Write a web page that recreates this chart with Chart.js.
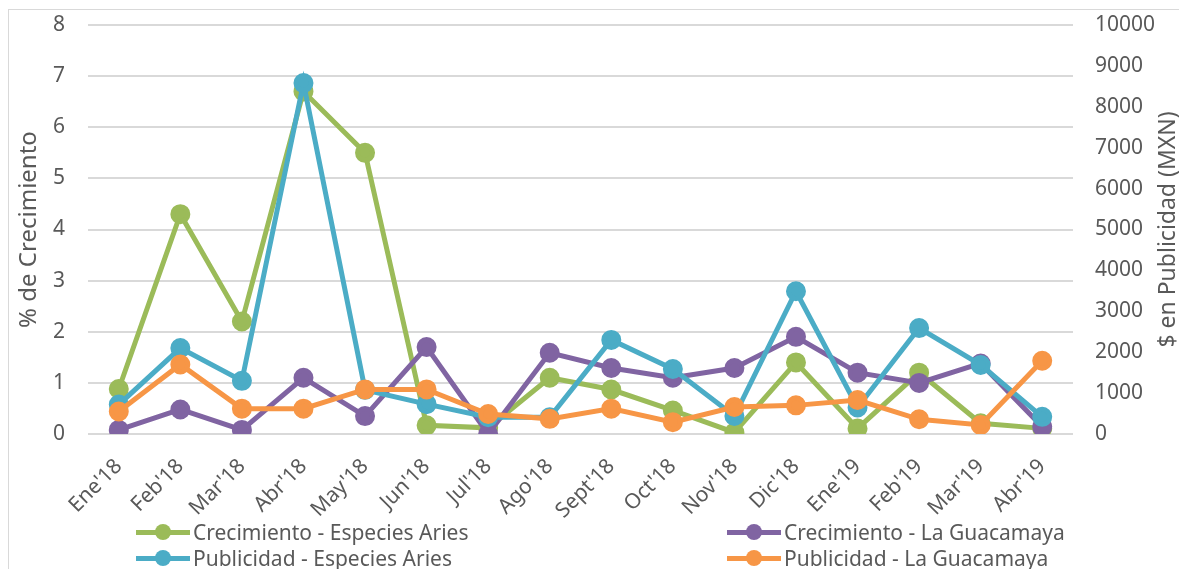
<!DOCTYPE html>
<html>
<head>
<meta charset="utf-8">
<script src="https://cdn.jsdelivr.net/npm/chart.js@4.4.1/dist/chart.umd.min.js"></script>
<style>
  html, body { margin: 0; padding: 0; background: #fff; overflow: hidden; }
  #wrap { position: relative; width: 1179px; height: 569px; font-family: "Noto Sans", sans-serif; }
  #frame { position: absolute; left: 8px; top: 9px; width: 1300px; height: 700px; border: 1px solid #d9d9d9; box-sizing: border-box; }
  #chart { position: absolute; left: 0; top: 0; }
  .leg { position: absolute; height: 26px; display: flex; align-items: center; color: #595959; font-size: 21px; white-space: nowrap; }
  .leg .mk { position: relative; width: 54px; height: 16px; margin-right: 3px; }
  .leg .mk .ln { position: absolute; left: 0; right: 0; top: 5.5px; height: 5px; }
  .leg .mk .dot { position: absolute; left: 19px; top: 0; width: 16px; height: 16px; border-radius: 50%; }
</style>
</head>
<body>
<div id="wrap">
  <div id="frame"></div>
  <canvas id="chart" width="1179" height="569"></canvas>
  <div id="legend"></div>
</div>
<script>
const months = ["Ene'18", "Feb'18", "Mar'18", "Abr'18", "May'18", "Jun'18", "Jul'18", "Ago'18",
                "Sept'18", "Oct'18", "Nov'18", "Dic'18", "Ene'19", "Feb'19", "Mar'19", "Abr'19"];

// % de crecimiento (eje izquierdo)
const crecimientoAries = [0.88, 4.3, 2.2, 6.7, 5.5, 0.17, 0.12, 1.1, 0.87, 0.46, 0.03, 1.4, 0.11, 1.2, 0.21, 0.11];
const crecimientoGuacamaya = [0.08, 0.48, 0.08, 1.1, 0.35, 1.7, 0.0, 1.59, 1.29, 1.1, 1.29, 1.9, 1.2, 1.0, 1.38, 0.14];

// $ en publicidad (eje derecho)
const publicidadAries = [720, 2100, 1300, 8580, 1080, 730, 410, 410, 2300, 1590, 440, 3490, 650, 2590, 1690, 420];
const publicidadGuacamaya = [550, 1700, 620, 620, 1090, 1090, 490, 370, 620, 290, 660, 700, 830, 360, 220, 1790];

const leftTicks = { min: 0, max: 8, step: 1 };
const rightTicks = { min: 0, max: 10000, step: 1000 };

const colors = {
  green: '#9BBB59',
  purple: '#8064A2',
  blue: '#4BACC6',
  orange: '#F79646'
};

const series = [
  { label: 'Crecimiento - Especies Aries', data: crecimientoAries, color: colors.green, axis: 'y', order: 4 },
  { label: 'Crecimiento - La Guacamaya', data: crecimientoGuacamaya, color: colors.purple, axis: 'y', order: 3 },
  { label: 'Publicidad - Especies Aries', data: publicidadAries, color: colors.blue, axis: 'y1', order: 2 },
  { label: 'Publicidad - La Guacamaya', data: publicidadGuacamaya, color: colors.orange, axis: 'y1', order: 1 }
];

const FONT = '"Noto Sans", sans-serif';
const TEXT = '#595959';
const GRID = '#d9d9d9';

// right axis title reads bottom-to-top, like Excel
const rightTitle = {
  id: 'rightTitle',
  afterDraw(chart) {
    const { ctx, chartArea, scales } = chart;
    ctx.save();
    ctx.translate(scales.y1.right - 11, (chartArea.top + chartArea.bottom) / 2);
    ctx.rotate(-Math.PI / 2);
    ctx.fillStyle = TEXT;
    ctx.font = '23px ' + FONT;
    ctx.textAlign = 'center';
    ctx.textBaseline = 'middle';
    ctx.fillText('$ en Publicidad (MXN)', 0, 0);
    ctx.restore();
  }
};

// fixed axis box sizes so the plot sits where the original does
function fitVertical(width) {
  return scale => {
    scale.width = width;
    scale.paddingTop = 8;
    scale.paddingBottom = 8;
  };
}

const ctx = document.getElementById('chart').getContext('2d');
new Chart(ctx, {
  type: 'line',
  data: {
    labels: months,
    datasets: series.map(s => ({
      label: s.label,
      data: s.data,
      yAxisID: s.axis,
      order: s.order,
      borderColor: s.color,
      backgroundColor: s.color,
      pointBackgroundColor: s.color,
      pointBorderColor: s.color,
      borderWidth: 5,
      pointRadius: 7.5,
      pointHoverRadius: 7.5,
      tension: 0
    }))
  },
  options: {
    responsive: false,
    animation: false,
    layout: { padding: { top: 25, left: 0, right: 0, bottom: 0 } },
    plugins: {
      legend: { display: false },
      tooltip: { enabled: false }
    },
    scales: {
      x: {
        offset: true,
        grid: { display: false, drawTicks: false },
        border: { display: false },
        ticks: {
          color: TEXT,
          font: { family: FONT, size: 21 },
          minRotation: 45,
          maxRotation: 45,
          padding: 20,
          autoSkip: false
        },
        afterFit: scale => { scale.height = 135; }
      },
      y: {
        position: 'left',
        min: leftTicks.min,
        max: leftTicks.max,
        ticks: { stepSize: leftTicks.step, color: TEXT, font: { family: FONT, size: 21 }, padding: 23 },
        grid: { color: GRID, lineWidth: 2, drawTicks: false },
        border: { display: false },
        title: { display: true, text: '% de Crecimiento', color: TEXT, font: { family: FONT, size: 24 }, padding: { top: 15, bottom: 0 } },
        afterFit: fitVertical(88)
      },
      y1: {
        position: 'right',
        min: rightTicks.min,
        max: rightTicks.max,
        ticks: { stepSize: rightTicks.step, color: TEXT, font: { family: FONT, size: 21 }, padding: 22, callback: v => String(v) },
        grid: { display: false, drawTicks: false },
        border: { display: false },
        afterFit: fitVertical(106)
      }
    }
  },
  plugins: [rightTitle]
});

// legend: two columns, two rows
const legendPos = [
  { left: 136, top: 519 },
  { left: 727, top: 519 },
  { left: 136, top: 545 },
  { left: 727, top: 545 }
];
const legendEl = document.getElementById('legend');
series.forEach((s, i) => {
  const item = document.createElement('div');
  item.className = 'leg';
  item.style.left = legendPos[i].left + 'px';
  item.style.top = legendPos[i].top + 'px';
  item.innerHTML = `<span class="mk"><span class="ln" style="background:${s.color}"></span><span class="dot" style="background:${s.color}"></span></span><span>${s.label}</span>`;
  legendEl.appendChild(item);
});
</script>
</body>
</html>
